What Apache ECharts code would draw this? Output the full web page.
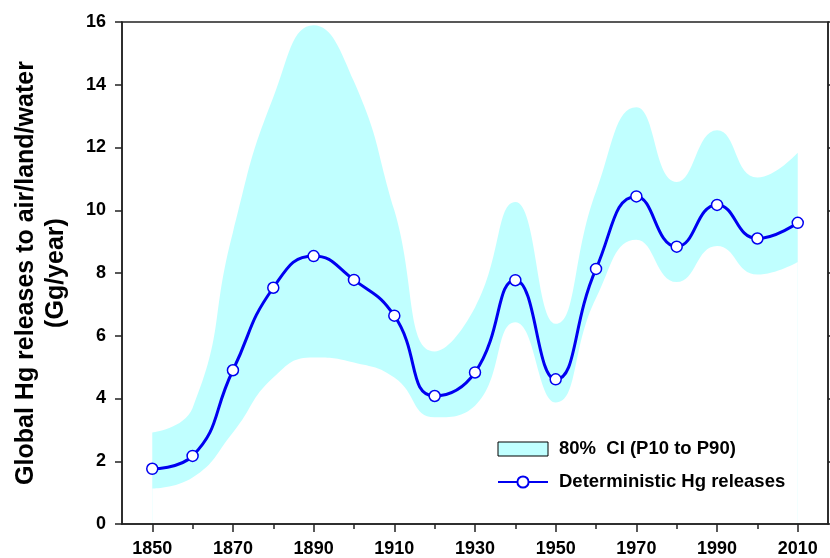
<!DOCTYPE html>
<html>
<head>
<meta charset="utf-8">
<script src="https://cdn.jsdelivr.net/npm/echarts@6/dist/echarts.min.js"></script>
<style>
html,body{margin:0;padding:0;background:#fff;}
#chart{width:830px;height:558px;}
</style>
</head>
<body>
<div id="chart"></div>
<script>
// ---- data ----
var years = [1850, 1860, 1870, 1880, 1890, 1900, 1910, 1920, 1930, 1940, 1950, 1960, 1970, 1980, 1990, 2000, 2010];
var deterministic = [1.76, 2.17, 4.90, 7.53, 8.54, 7.78, 6.64, 4.08, 4.83, 7.77, 4.61, 8.13, 10.44, 8.84, 10.17, 9.10, 9.60];
var ciUpper = [2.92, 3.70, 9.30, 13.60, 15.90, 14.10, 10.00, 5.50, 6.90, 10.26, 6.38, 10.60, 13.28, 10.90, 12.55, 11.04, 11.83];
var ciLower = [1.13, 1.48, 2.92, 4.67, 5.31, 5.15, 4.67, 3.40, 3.77, 6.43, 3.87, 7.20, 9.06, 7.71, 8.86, 7.95, 8.35];
var xLabelYears = [1850, 1870, 1890, 1910, 1930, 1950, 1970, 1990, 2010];
var xMinorYears = [1860, 1880, 1900, 1920, 1940, 1960, 1980, 2000];

var bandName = '80%  CI (P10 to P90)';
var lineName = 'Deterministic Hg releases';
var yTitle = 'Global Hg releases to air/land/water\n(Gg/year)';

// ---- build series data ----
var upperData = years.map(function (y, i) { return [y, ciUpper[i]]; });
var lowerData = years.map(function (y, i) { return [y, ciLower[i]]; });
var detData = years.map(function (y, i) { return [y, deterministic[i]]; });

var FONT = '"Liberation Sans", Arial, sans-serif';
var AXIS_COLOR = '#222';
var BAND = '#c0ffff';
var SMOOTH = 0.5;

var chart = echarts.init(document.getElementById('chart'), null, {renderer: 'canvas'});
chart.setOption({
  animation: false,
  backgroundColor: '#fff',
  grid: {
    left: 122, right: 2, top: 22, bottom: 34,
    outerBoundsMode: 'none', containLabel: false,
    show: true, borderColor: AXIS_COLOR, borderWidth: 1.5, backgroundColor: 'transparent', z: 10
  },
  legend: {
    left: 497, top: 438, orient: 'vertical',
    itemWidth: 50, itemHeight: 14, itemGap: 11, padding: 0,
    textStyle: {fontFamily: FONT, fontWeight: 'bold', fontSize: 18.5, color: '#000', lineHeight: 22, padding: [0, 0, 0, 6]},
    data: [
      {name: bandName, icon: 'rect', itemStyle: {color: BAND, borderColor: '#000', borderWidth: 1}},
      {name: lineName}
    ]
  },
  xAxis: [{
    type: 'value', min: 1842.5, max: 2017.5, z: 10,
    axisLine: {show: true, onZero: false, lineStyle: {color: AXIS_COLOR, width: 1.5}},
    axisTick: {show: true, length: 8, customValues: xLabelYears, lineStyle: {color: AXIS_COLOR, width: 1.5}},
    axisLabel: {customValues: xLabelYears, margin: 16, fontFamily: FONT, fontWeight: 'bold', fontSize: 18, color: '#000',
      formatter: function (v) { return String(v); }},
    splitLine: {show: false}
  }, {
    type: 'value', min: 1842.5, max: 2017.5, position: 'bottom', z: 10,
    axisLine: {show: false},
    axisTick: {show: true, length: 5, customValues: xMinorYears, lineStyle: {color: AXIS_COLOR, width: 1.5}},
    axisLabel: {show: false},
    splitLine: {show: false}
  }],
  yAxis: [{
    type: 'value', min: 0, max: 16, interval: 2, z: 10,
    name: yTitle, nameLocation: 'middle', nameRotate: 90, nameGap: 51,
    nameTextStyle: {fontFamily: FONT, fontWeight: 'bold', fontSize: 25, color: '#000', lineHeight: 30, align: 'center'},
    axisLine: {show: true, onZero: false, lineStyle: {color: AXIS_COLOR, width: 1.5}},
    axisTick: {show: true, length: 7, lineStyle: {color: AXIS_COLOR, width: 1.5}},
    axisLabel: {margin: 16, fontFamily: FONT, fontWeight: 'bold', fontSize: 18, color: '#000'},
    splitLine: {show: false}
  }, {
    type: 'value', min: 0, max: 16, interval: 2, position: 'right', z: 10,
    axisLine: {show: true, onZero: false, lineStyle: {color: AXIS_COLOR, width: 1.5}},
    axisTick: {show: true, length: 7, lineStyle: {color: AXIS_COLOR, width: 1.5}},
    axisLabel: {show: false},
    splitLine: {show: false}
  }],
  series: [{
    // upper bound of the CI, filled down to the x axis
    name: bandName, type: 'line', data: upperData,
    smooth: SMOOTH, showSymbol: false, silent: true,
    itemStyle: {color: BAND},
    lineStyle: {width: 0, color: BAND},
    areaStyle: {color: BAND, opacity: 1, origin: 'start'}, z: 1
  }, {
    // lower bound of the CI, filled white down to the x axis (cuts out the band)
    name: 'lower', type: 'line', data: lowerData,
    smooth: SMOOTH, showSymbol: false, silent: true,
    itemStyle: {color: '#fff'},
    lineStyle: {width: 0, color: '#fff'},
    areaStyle: {color: '#ffffff', opacity: 1, origin: 'start'}, z: 2
  }, {
    name: lineName, type: 'line', data: detData,
    smooth: SMOOTH, symbol: 'circle', symbolSize: 11, showSymbol: true,
    lineStyle: {color: '#0000f0', width: 3},
    itemStyle: {color: '#ffffff', borderColor: '#0000f0', borderWidth: 1.5},
    z: 3
  }]
});
</script>
</body>
</html>
